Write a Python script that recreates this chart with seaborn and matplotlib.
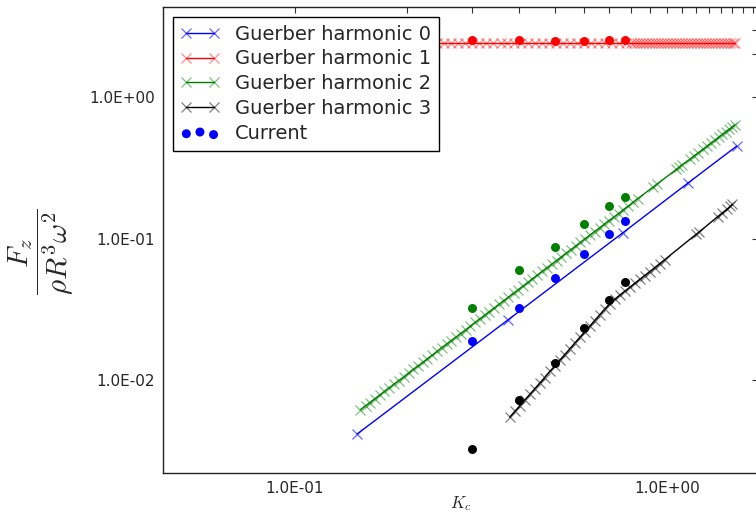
import numpy as np
import pandas as pd
import matplotlib
matplotlib.use('Agg')
import matplotlib.pyplot as plt
import matplotlib.ticker as mticker
import seaborn as sns

# Guerber harmonics (x markers along each curve)
h0_x = [0.147, 0.374, 0.762, 1.14, 1.54]
h0_y = [0.00415, 0.0266, 0.110, 0.247, 0.450]

h1_x = [0.150, 0.157, 0.164, 0.171, 0.178, 0.186, 0.194, 0.203, 0.212, 0.221,
        0.231, 0.241, 0.252, 0.263, 0.275, 0.287, 0.300, 0.313, 0.327, 0.341,
        0.357, 0.372, 0.389, 0.406, 0.424, 0.443, 0.462, 0.483, 0.504, 0.527,
        0.550, 0.574, 0.600, 0.626, 0.654, 0.683, 0.713, 0.745, 0.778,
        0.800, 0.815, 0.830, 0.846, 0.862, 0.878, 0.894, 0.911, 0.928, 0.946,
        0.963, 0.981, 1.000, 1.019, 1.038, 1.057, 1.077, 1.098, 1.118, 1.139,
        1.161, 1.183, 1.205, 1.227, 1.250, 1.274, 1.298, 1.322, 1.347, 1.372,
        1.398, 1.424, 1.451, 1.478, 1.506, 1.520]
h1_y = [2.40, 2.40, 2.40, 2.40, 2.40, 2.40, 2.40, 2.40, 2.40, 2.40, 2.40, 2.40, 2.40, 2.40, 2.40,
        2.40, 2.40, 2.40, 2.40, 2.40, 2.40, 2.40, 2.40, 2.40, 2.40, 2.40, 2.40, 2.40, 2.40, 2.40,
        2.40, 2.40, 2.40, 2.40, 2.40, 2.40, 2.40, 2.40, 2.40, 2.40, 2.40, 2.40, 2.40, 2.40, 2.40,
        2.40, 2.40, 2.40, 2.40, 2.40, 2.40, 2.40, 2.40, 2.40, 2.40, 2.40, 2.40, 2.40, 2.40, 2.40,
        2.40, 2.40, 2.40, 2.40, 2.40, 2.40, 2.40, 2.40, 2.40, 2.40, 2.40, 2.40, 2.40, 2.40, 2.40]

h2_x = [0.150, 0.155, 0.159, 0.164, 0.169, 0.174, 0.179, 0.185, 0.190, 0.196,
        0.202, 0.208, 0.214, 0.221, 0.227, 0.234, 0.241, 0.248, 0.256, 0.263,
        0.271, 0.279, 0.288, 0.296, 0.305, 0.314, 0.324, 0.333, 0.343, 0.354,
        0.364, 0.375, 0.387, 0.398, 0.410, 0.423, 0.435, 0.448, 0.462, 0.476,
        0.490, 0.505, 0.520, 0.535, 0.551, 0.568, 0.585, 0.603, 0.621, 0.639,
        0.659, 0.678, 0.699, 0.720, 0.741, 0.763, 0.786, 0.810, 0.834,
        0.920, 0.940, 1.060, 1.080, 1.100, 1.150, 1.180, 1.210, 1.250, 1.280,
        1.310, 1.350, 1.380, 1.410, 1.440, 1.470, 1.500, 1.520]
h2_y = [0.00617, 0.00658, 0.00693, 0.00737, 0.00783, 0.00830, 0.00878, 0.00938, 0.00989, 0.0105,
        0.0112, 0.0119, 0.0125, 0.0134, 0.0141, 0.0150, 0.0159, 0.0169, 0.0180, 0.0190,
        0.0201, 0.0213, 0.0227, 0.0240, 0.0255, 0.0270, 0.0288, 0.0304, 0.0322, 0.0343,
        0.0363, 0.0385, 0.0410, 0.0434, 0.0461, 0.0490, 0.0519, 0.0550, 0.0585, 0.0621,
        0.0658, 0.0699, 0.0741, 0.0784, 0.0832, 0.0884, 0.0938, 0.0996, 0.106, 0.112,
        0.119, 0.126, 0.134, 0.142, 0.150, 0.160, 0.169, 0.180, 0.191,
        0.232, 0.242, 0.308, 0.320, 0.332, 0.362, 0.382, 0.401, 0.428, 0.449,
        0.470, 0.499, 0.522, 0.545, 0.568, 0.592, 0.617, 0.633]

h3_x = [0.378, 0.390, 0.402, 0.415, 0.428, 0.441, 0.455, 0.469, 0.484, 0.499,
        0.515, 0.531, 0.548, 0.565, 0.583, 0.601, 0.620, 0.639, 0.659, 0.680,
        0.701, 0.723, 0.746, 0.770, 0.794, 0.819, 0.845, 0.871, 0.899, 0.927,
        0.956, 0.986, 1.200, 1.220, 1.370, 1.410, 1.450, 1.480, 1.500]
h3_y = [0.00546, 0.00600, 0.00657, 0.00722, 0.00792, 0.00866, 0.00951, 0.0104, 0.0115, 0.0125,
        0.0138, 0.0151, 0.0166, 0.0182, 0.0200, 0.0219, 0.0240, 0.0263, 0.0288, 0.0317,
        0.0345, 0.0371, 0.0397, 0.0424, 0.0452, 0.0482, 0.0514, 0.0547, 0.0584, 0.0622,
        0.0664, 0.0708, 0.1075, 0.111, 0.143, 0.152, 0.161, 0.169, 0.174]

# current results
current_x = [0.3, 0.4, 0.5, 0.6, 0.7, 0.77]
current_h0 = [0.0190, 0.0325, 0.0524, 0.0773, 0.108, 0.132]
current_h1 = [2.53, 2.54, 2.50, 2.50, 2.54, 2.53]
current_h2 = [0.0325, 0.0598, 0.0874, 0.126, 0.170, 0.198]
current_h3 = [0.00325, 0.00723, 0.0131, 0.0232, 0.0367, 0.0490]

labels = ['Guerber harmonic 0', 'Guerber harmonic 1', 'Guerber harmonic 2', 'Guerber harmonic 3']
colors = ['#0000ff', '#ff0000', '#008000', '#000000']
marker_colors = [(0, 0, 1, 0.6), (1, 0, 0, 0.45), (0, 0.5, 0, 0.5), (0, 0, 0, 0.5)]

sns.set_style('white')
plt.rcParams['font.family'] = ['DejaVu Sans']
plt.rcParams['mathtext.fontset'] = 'cm'

fig = plt.figure(figsize=(7.56, 5.14), dpi=100)
ax = fig.add_axes([163/756, 41/514, 595/756, 466/514])
ax.set_xscale('log')
ax.set_yscale('log')

series = [(h0_x, h0_y), (h1_x, h1_y), (h2_x, h2_y), (h3_x, h3_y)]
for (xs, ys), lab, c, mc in zip(series, labels, colors, marker_colors):
    sns.lineplot(x=xs, y=ys, color=c, lw=1.0, marker='x', markersize=6.5,
                 markeredgecolor=mc, markeredgewidth=0.9, label=lab,
                 estimator=None, sort=False, ax=ax)

for ys, c, lab in zip([current_h0, current_h1, current_h2, current_h3], colors,
                      ['Current', None, None, None]):
    sns.scatterplot(x=current_x, y=ys, color=c, s=42, linewidth=0, label=lab,
                    ax=ax, zorder=3)

ax.set_xlim(0.0442, 1.757)
ax.set_ylim(0.0022, 4.33)

ax.xaxis.set_major_locator(mticker.FixedLocator([0.1, 1.0]))
ax.xaxis.set_minor_locator(mticker.FixedLocator(
    [0.2, 0.3, 0.4, 0.5, 0.6, 0.7, 0.8, 0.9, 1.1, 1.2, 1.3, 1.4, 1.5, 1.6, 1.7]))
ax.yaxis.set_major_locator(mticker.FixedLocator([0.01, 0.1, 1.0]))
ax.yaxis.set_minor_locator(mticker.FixedLocator([2.0, 3.0]))
fmt = mticker.FuncFormatter(lambda v, p: '%.1E' % v)
ax.xaxis.set_major_formatter(fmt)
ax.yaxis.set_major_formatter(fmt)
ax.xaxis.set_minor_formatter(mticker.NullFormatter())
ax.yaxis.set_minor_formatter(mticker.NullFormatter())

ax.tick_params(which='both', direction='in', top=True, right=True, length=4.5,
               width=0.8, color='#333333', labelsize=11, pad=6)
for sp in ax.spines.values():
    sp.set_color('#222222')
    sp.set_linewidth(1.0)

ax.set_xlabel('$K_c$', fontsize=12)
ax.xaxis.set_label_coords(0.5, -0.045)
ax.set_ylabel(r'$\dfrac{F_z}{\rho R^3 \omega^2}$', fontsize=21)
ax.yaxis.set_label_coords(-0.148, 0.475)

leg = ax.legend(loc='upper left', fontsize=14, numpoints=2, scatterpoints=3,
                scatteryoffsets=[0.375, 0.5, 0.3125], fancybox=False,
                framealpha=1, edgecolor='black', labelspacing=0.3,
                borderaxespad=0.5, handlelength=2.0)
leg.get_frame().set_linewidth(1.0)

fig.savefig('out.png', dpi=100)
